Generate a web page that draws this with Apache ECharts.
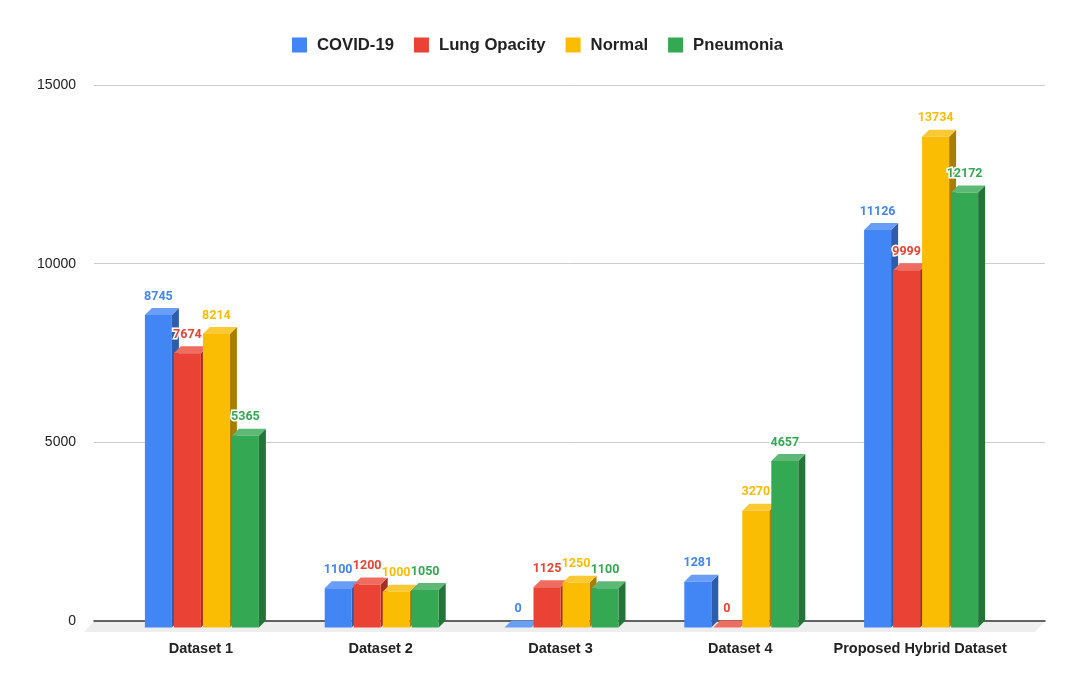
<!DOCTYPE html>
<html><head><meta charset="utf-8">
<style>html,body{margin:0;padding:0;background:#fff}#c{width:1080px;height:690px}</style>
<script src="https://cdn.jsdelivr.net/npm/echarts@6/dist/echarts.min.js"></script>
</head><body><div id="c"></div>
<script>
const categories = ['Dataset 1','Dataset 2','Dataset 3','Dataset 4','Proposed Hybrid Dataset'];
const covid = [8745,1100,0,1281,11126];
const lung = [7674,1200,1125,0,9999];
const normal = [8214,1000,1250,3270,13734];
const pneumonia = [5365,1050,1100,4657,12172];
const seriesNames = ['COVID-19','Lung Opacity','Normal','Pneumonia'];
const seriesValues = [covid,lung,normal,pneumonia];
const yTicks = {min:0,max:15000,interval:5000};

const faces = [
  {front:'#4285f4',top:'#6a9ef6',side:'#2e5dab'},
  {front:'#ea4335',top:'#ef6c61',side:'#a32f25'},
  {front:'#fbbc04',top:'#fcc936',side:'#a87d00'},
  {front:'#34a853',top:'#5db975',side:'#24743a'}
];
const DX=7, DY=7, BW=27, PITCH=29, FONT='Liberation Sans';

function barItem(idx){
  return function(params,api){
    const cat=api.value(0), val=api.value(1);
    const base=api.coord([cat,0]), topP=api.coord([cat,val]);
    const x=base[0]+1-(PITCH*4-(PITCH-BW))/2+idx*PITCH, y0=base[1], y1=topP[1], f=faces[idx];
    const poly=(pts,fill)=>({type:'polygon',shape:{points:pts},style:{fill:fill}});
    return {type:'group',children:[
      poly([[x+BW,y1],[x+BW+DX,y1-DY],[x+BW+DX,y0-DY],[x+BW,y0]],f.side),
      poly([[x,y1],[x+DX,y1-DY],[x+BW+DX,y1-DY],[x+BW,y1]],f.top),
      {type:'rect',shape:{x:x,y:y1,width:BW,height:y0-y1},style:{fill:f.front}},
      {type:'text',z2:100,style:{x:x+BW/2,y:y1-18.5,text:String(val),fill:f.front,
        font:'bold 12.5px Roboto',align:'center',verticalAlign:'middle',stroke:'#fff',lineWidth:3}}
    ]};
  };
}
const chart=echarts.init(document.getElementById('c'),null,{renderer:'canvas'});
chart.setOption({
  animation:false,
  backgroundColor:'#fff',
  legend:{left:292,top:36.5,padding:0,itemWidth:15,itemHeight:15,itemGap:20,icon:'rect',data:seriesNames,
    textStyle:{fontFamily:FONT,fontWeight:'bold',fontSize:16.7,color:'#222',padding:[0,0,0,5]},selectedMode:false},
  grid:[
    {left:94,right:35,top:85,height:536},
    {left:111,width:899,top:91.5,height:536}
  ],
  xAxis:[
    {gridIndex:0,type:'category',data:categories,axisLabel:{show:false},axisTick:{show:false},
     axisLine:{show:true,lineStyle:{color:'#333',width:1.5}},z:3},
    {gridIndex:1,type:'category',data:categories,axisTick:{show:false},axisLine:{show:false},
     axisLabel:{interval:0,margin:14,fontFamily:FONT,fontWeight:'bold',fontSize:14.5,color:'#222'}}
  ],
  yAxis:[
    {gridIndex:0,type:'value',min:yTicks.min,max:yTicks.max,interval:yTicks.interval,
     axisLine:{show:false},axisTick:{show:false},
     axisLabel:{margin:18,fontFamily:FONT,fontSize:14,color:'#222',formatter:v=>String(v),padding:[2,0,0,0]},
     splitLine:{lineStyle:{color:'#ccc',width:1}}},
    {gridIndex:1,type:'value',min:yTicks.min,max:yTicks.max,interval:yTicks.interval,
     axisLine:{show:false},axisTick:{show:false},axisLabel:{show:false},splitLine:{show:false}}
  ],
  series:[
    {type:'custom',silent:true,xAxisIndex:0,yAxisIndex:0,data:[[0,0]],z:1,legendHoverLink:false,
     renderItem:function(params){
       const c=params.coordSys, b=c.y+c.height;
       return {type:'polygon',shape:{points:[[c.x,b],[c.x+c.width,b],[c.x+c.width-10,b+11],[c.x-10,b+11]]},style:{fill:'#eeeeee'}};
     }}
  ].concat(seriesNames.map((n,i)=>({
    name:n,type:'custom',xAxisIndex:1,yAxisIndex:1,z:5,
    itemStyle:{color:faces[i].front},
    encode:{x:0,y:1},
    data:seriesValues[i].map((v,k)=>[k,v]),
    renderItem:barItem(i),clip:false
  })))
});
</script></body></html>
